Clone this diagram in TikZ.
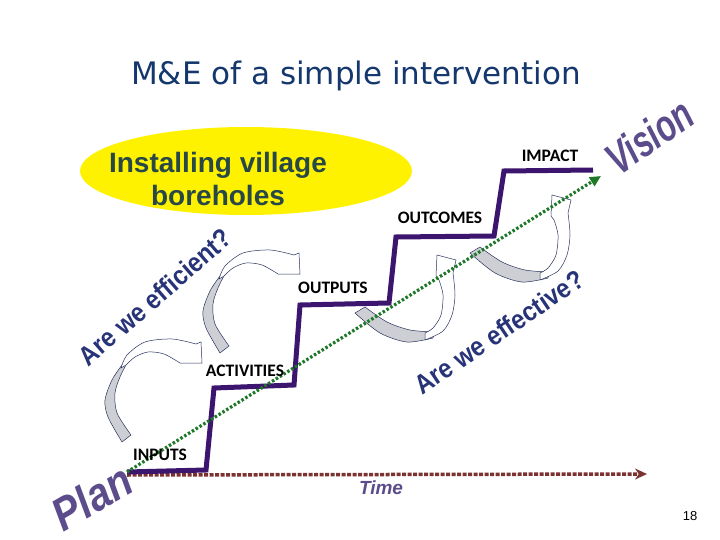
\documentclass[tikz,border=0pt]{standalone}
\usepackage{fontspec}
\setmainfont{Liberation Sans}
\newfontfamily\titlefont{DejaVu Sans}
\newfontfamily\stepfont{Carlito}
\usetikzlibrary{arrows.meta,positioning}

\definecolor{titleblue}{RGB}{20,55,110}
\definecolor{stairpurple}{RGB}{60,22,110}
\definecolor{trendgreen}{RGB}{30,120,40}
\definecolor{timebrown}{RGB}{125,50,50}
\definecolor{askblue}{RGB}{40,52,120}
\definecolor{wordpurple}{RGB}{92,76,140}
\definecolor{slate}{RGB}{40,72,72}
\definecolor{loopgray}{RGB}{205,207,212}
\definecolor{loopedge}{RGB}{40,50,90}

\newcommand\stretchy[2]{\scalebox{1}[#1]{#2}}

\tikzset{
  stage/.style={font=\stepfont\bfseries\fontsize{17.5}{20}\selectfont, inner sep=0pt},
  ask/.style={font=\bfseries\fontsize{24}{27}\selectfont, text=askblue, inner sep=0pt},
  wordart/.style={font=\bfseries\itshape\fontsize{32}{36}\selectfont, text=wordpurple, inner sep=0pt},
  stair/.style={draw=stairpurple, line width=5pt, line join=miter},
  trend/.style={draw=trendgreen, line width=3.2pt, dash pattern=on 2.5pt off 2pt,
    -{Triangle[length=11pt,width=10pt]}},
  timeline/.style={draw=timebrown, line width=3.5pt, dash pattern=on 4pt off 1.5pt,
    -{Stealth[length=12pt,width=11pt]}},
  loopline/.style={draw=loopedge, line width=0.5pt},
  bendup/.pic={
    \filldraw[loopline, fill=loopgray] plot[smooth] coordinates {(0,0) (-14,-25) (-17,-42) (-10,-62) (0,-77)}
      -- plot[smooth] coordinates {(5,-79) (-2,-65) (-7,-49) (-5,-29) (9,-7)} -- cycle;
    \filldraw[loopline, fill=white] plot[smooth] coordinates {(-1,-74) (5,-87) (23,-100) (50,-103) (74,-98)}
      -- (79,-100) -- (80,-79)
      -- plot[smooth] coordinates {(58,-79) (42,-88) (26,-90) (13,-85) (4,-77)} -- cycle;
  },
  benddown/.pic={
    \filldraw[loopline, fill=loopgray] plot[smooth] coordinates {(0,0) (25,20) (52,29) (78,25)}
      -- plot[smooth] coordinates {(79,19) (55,17) (32,9) (10,-6)} -- cycle;
    \filldraw[loopline, fill=white] plot[smooth] coordinates {(70,27) (88,18) (97,2) (100,-18) (98,-40)}
      -- (101,-53) -- (82,-58) -- (81,-37)
      -- plot[smooth] coordinates {(84,-33) (88,-18) (86,2) (78,15) (70,20)} -- cycle;
  },
}

\begin{document}
\begin{tikzpicture}[x=1pt, y=-1pt]
  \fill[white] (0,0) rectangle (720,540);
  \useasboundingbox (0,0) rectangle (720,540);

  \node[font=\titlefont\fontsize{31}{36}\selectfont, text=titleblue, anchor=base] (title) at (356,85)
    {M\&E of a simple intervention};

  \fill[yellow] (246,171) ellipse [x radius=166, y radius=44];
  \node[align=center, font=\bfseries\fontsize{28}{33}\selectfont, text=slate] (borehole) at (218,179)
    {Installing village\\boreholes};

  \coordinate (s0) at (127,472);
  \coordinate (s1) at (206,470);
  \coordinate (s2) at (214,388);
  \coordinate (s3) at (294,385);
  \coordinate (s4) at (300,305);
  \coordinate (s5) at (389,303);
  \coordinate (s6) at (396,237);
  \coordinate (s7) at (494,236);
  \coordinate (s8) at (504,171);
  \coordinate (s9) at (593,170);
  \coordinate (t0) at (127,475);
  \coordinate (tend) at (647,474);
  \coordinate (goal) at (601,176);

  \pic at (122,442) {bendup};
  \pic at (220,353) {bendup};
  \pic at (355,313) {benddown};
  \pic at (470,253) {benddown};

  \draw[timeline] (t0) -- (tend);
  \draw[stair] (s0) -- (s1) -- (s2) -- (s3) -- (s4) -- (s5) -- (s6) -- (s7) -- (s8) -- (s9);
  \draw[trend] (s0) -- (goal);

  \node[stage] (inputs) at (160,455) {INPUTS};
  \node[stage] (activities) at (245,371) {ACTIVITIES};
  \node[stage] (outputs) at (333,288) {OUTPUTS};
  \node[stage] (outcomes) at (440,218) {OUTCOMES};
  \node[stage] (impact) at (550,156) {IMPACT};

  \node[ask, rotate=41] (efficient) at (155,297) {\stretchy{1.12}{Are we efficient?}};
  \node[ask, rotate=34] (effective) at (499,332) {\stretchy{1.12}{Are we effective?}};

  \node[wordart, rotate=35] (vision) at (649,136) {\stretchy{1.4}{Vision}};
  \node[wordart, rotate=30, font=\bfseries\itshape\fontsize{40}{44}\selectfont] (plan) at (92,497)
    {\stretchy{1.15}{Plan}};

  \node[font=\bfseries\itshape\fontsize{19}{22}\selectfont, text=wordpurple] (time) at (381,488) {Time};
  \node[font=\fontsize{13}{15}\selectfont] (page) at (690,516) {18};
\end{tikzpicture}
\end{document}
